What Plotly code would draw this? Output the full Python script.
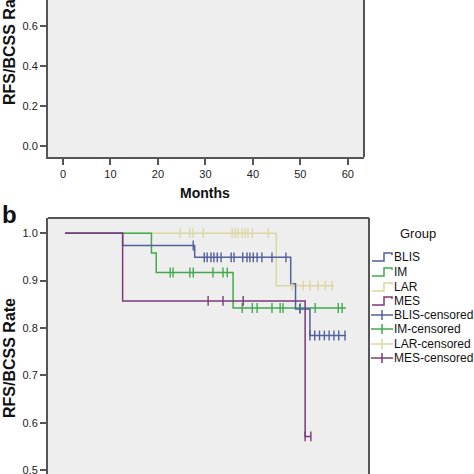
import plotly.graph_objects as go

# ---------------- data ----------------
groups = ["BLIS", "IM", "LAR", "MES"]
colors = {"BLIS": "#52609c", "IM": "#43a94f", "LAR": "#dcd7a0", "MES": "#7a3b78"}

# step curves (time in months, survival rate)
blis_t = [0, 12, 27, 47, 48, 51, 58.5]
blis_s = [1.0, 0.974, 0.949, 0.893, 0.840, 0.784, 0.784]
im_t = [0, 18, 19, 35, 58.5]
im_s = [1.0, 0.958, 0.917, 0.842, 0.842]
lar_t = [0, 44, 56]
lar_s = [1.0, 0.889, 0.889]
mes_t = [0, 12, 50, 51.2]
mes_s = [1.0, 0.857, 0.571, 0.571]

# censored times
blis_c = [26.7, 29, 29.6, 30.4, 31, 31.7, 32.5, 34.6, 35.2, 37, 37.9, 38.5, 39.2, 40, 41, 43.1, 46,
          48.9, 51, 52, 53, 54, 55, 56, 57, 58.3]
im_c = [21.9, 22.5, 26, 26.7, 30.8, 32.9, 33.8, 36.9, 39, 40, 43.1, 44.8, 45.4, 49, 52.1, 56.9, 57.7]
lar_c = [24, 26, 26.7, 28.8, 34.8, 35.4, 36, 36.9, 37.5, 38.1, 39, 42.3,
         47.3, 49.6, 51, 52.7, 54.2, 55.6]
mes_c = [29.8, 32.9, 37.1, 50, 51.2]

top_y_ticks = [0.0, 0.2, 0.4, 0.6]
bot_y_ticks = [0.5, 0.6, 0.7, 0.8, 0.9, 1.0]
x_ticks = [0, 10, 20, 30, 40, 50, 60]
legend_labels = ["BLIS", "IM", "LAR", "MES", "BLIS-censored", "IM-censored", "LAR-censored", "MES-censored"]

curves = {"BLIS": (blis_t, blis_s, blis_c), "IM": (im_t, im_s, im_c),
          "LAR": (lar_t, lar_s, lar_c), "MES": (mes_t, mes_s, mes_c)}


def step_value(ts, ss, t):
    v = ss[0]
    for ti, si in zip(ts, ss):
        if ti <= t:
            v = si
    return v


W = H = 474


def px(x):
    return x / W


def py(y):
    return 1 - y / H


FONT = "Liberation Sans, Arial, sans-serif"
AXC = "#555555"
BG = "#eeeeee"

fig = go.Figure()

# empty trace for the top panel
fig.add_trace(go.Scatter(x=[], y=[], xaxis="x2", yaxis="y2", showlegend=False))

draw_order = ["LAR", "IM", "BLIS", "MES"]
for g in draw_order:
    t, s, c = curves[g]
    fig.add_trace(go.Scatter(x=t, y=s, mode="lines", line=dict(color=colors[g], width=1.5, shape="hv"),
                             showlegend=False, hoverinfo="skip"))
for g in draw_order:
    t, s, c = curves[g]
    fig.add_trace(go.Scatter(x=c, y=[step_value(t, s, ci) for ci in c], mode="markers",
                             marker=dict(symbol="line-ns", size=7, line=dict(color=colors[g], width=1.4)),
                             showlegend=False, hoverinfo="skip"))

tickfont = dict(family=FONT, size=11, color="#222222")

fig.update_layout(
    width=W, height=H, margin=dict(l=0, r=0, t=0, b=0),
    paper_bgcolor="white", plot_bgcolor=BG, showlegend=False,
    # bottom panel
    xaxis=dict(domain=[px(48), px(369)], range=[-3.54, 63.3], showgrid=False, zeroline=False,
               tickvals=x_ticks, ticks="", showticklabels=False, showline=False,
               automargin=False, anchor="y"),
    yaxis=dict(domain=[0, py(218)], range=[0.4916, 1.032], showgrid=False, zeroline=False,
               tickvals=bot_y_ticks, tickformat=".1f", ticks="outside", ticklen=6, tickwidth=1.5,
               tickcolor=AXC, showline=True, linecolor=AXC, linewidth=2, automargin=False,
               tickfont=tickfont, anchor="x", ticklabeloverflow="allow"),
    # top panel
    xaxis2=dict(domain=[px(48), px(364)], range=[-3.16, 63.4], showgrid=False, zeroline=False,
                tickvals=x_ticks, ticks="outside", ticklen=6, tickwidth=1.5, tickcolor=AXC,
                showline=True, linecolor=AXC, linewidth=2, automargin=False, tickfont=tickfont,
                anchor="y2"),
    yaxis2=dict(domain=[py(157), 1], range=[-0.055, 0.73], showgrid=False, zeroline=False,
                tickvals=top_y_ticks, tickformat=".1f", ticks="outside", ticklen=6, tickwidth=1.5,
                tickcolor=AXC, showline=True, linecolor=AXC, linewidth=2, automargin=False,
                tickfont=tickfont, anchor="x2"),
)

shapes = []
# frame lines (right of top panel, top and right of bottom panel)
shapes.append(dict(type="line", xref="paper", yref="paper", x0=px(364), x1=px(364), y0=py(157), y1=1.0,
                   line=dict(color=AXC, width=2)))
shapes.append(dict(type="line", xref="paper", yref="paper", x0=px(48), x1=px(369), y0=py(218), y1=py(218),
                   line=dict(color=AXC, width=2)))
shapes.append(dict(type="line", xref="paper", yref="paper", x0=px(369), x1=px(369), y0=0, y1=py(218),
                   line=dict(color=AXC, width=2)))

annotations = []


def ann(text, x, y, size, **kw):
    d = dict(text=text, x=px(x), y=py(y), xref="paper", yref="paper", showarrow=False,
             xanchor="center", yanchor="middle", font=dict(family=FONT, size=size, color="#111111"))
    d.update(kw)
    annotations.append(d)


ann("<b>Months</b>", 205, 193, 14)
ann("<b>b</b>", 9, 214, 24)
for yc in (45, 358):
    ann("<b>RFS/BCSS Rate</b>", 9, yc, 16, textangle=-90)

# legend
ann("Group", 418, 234, 13)
leg_y = [257, 272, 287, 301, 315, 329, 344, 358]
for i, lab in enumerate(legend_labels):
    yy = leg_y[i]
    g = groups[i % 4]
    col = colors[g]
    if i < 4:
        path = "M {},{} L {},{} L {},{} L {},{} L {},{}".format(
            px(372), py(yy + 4), px(384), py(yy + 4), px(384), py(yy - 4), px(392), py(yy - 4),
            px(392), py(yy - 2))
        shapes.append(dict(type="path", xref="paper", yref="paper", path=path,
                           line=dict(color=col, width=1.5)))
    else:
        shapes.append(dict(type="line", xref="paper", yref="paper", x0=px(371), x1=px(393),
                           y0=py(yy), y1=py(yy), line=dict(color=col, width=1.5)))
        shapes.append(dict(type="line", xref="paper", yref="paper", x0=px(382), x1=px(382),
                           y0=py(yy - 5), y1=py(yy + 5), line=dict(color=col, width=1.5)))
    ann(lab, 393, yy, 12, xanchor="left", borderpad=0)

fig.update_layout(shapes=shapes, annotations=annotations)
fig.write_html("out.html", config={"displayModeBar": False},
               post_script="document.body.style.margin='0';document.body.style.overflow='hidden';")
